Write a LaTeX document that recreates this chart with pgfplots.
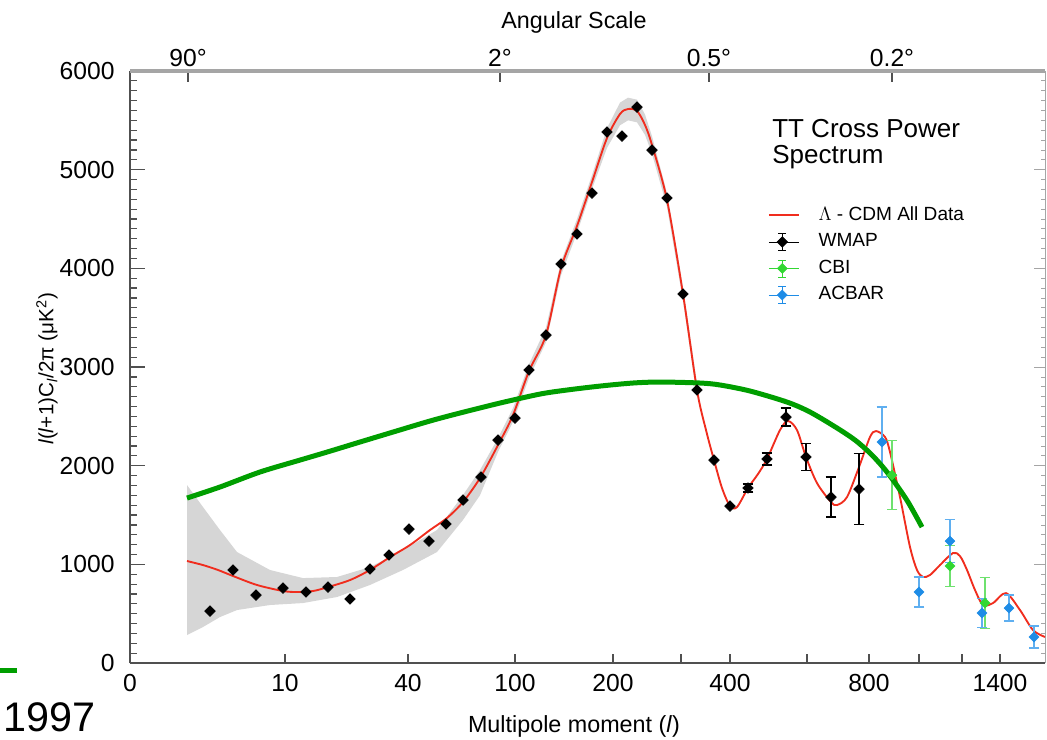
\documentclass[border=0pt]{standalone}
\usepackage{pgfplots}
\pgfplotsset{compat=1.18}
\usepackage{fontspec}
\setmainfont{Liberation Sans}

\definecolor{lcdm}{RGB}{240,45,30}
\definecolor{fitgreen}{RGB}{0,158,0}
\definecolor{cbi}{RGB}{50,215,50}
\definecolor{cbibar}{RGB}{110,225,110}
\definecolor{acbar}{RGB}{30,140,230}
\definecolor{acbarbar}{RGB}{95,175,240}
\definecolor{band}{RGB}{214,214,214}
\definecolor{axisdark}{RGB}{80,80,80}
\definecolor{axislight}{RGB}{165,165,165}

% square diamond
\pgfdeclareplotmark{dia}{%
  \pgfpathmoveto{\pgfqpoint{0pt}{\pgfplotmarksize}}%
  \pgfpathlineto{\pgfqpoint{\pgfplotmarksize}{0pt}}%
  \pgfpathlineto{\pgfqpoint{0pt}{-\pgfplotmarksize}}%
  \pgfpathlineto{\pgfqpoint{-\pgfplotmarksize}{0pt}}%
  \pgfpathclose
  \pgfusepathqfillstroke}

% x = position along the chart's stretched multipole axis (ticks labelled with l)
\pgfplotsset{
  wmapframe/.style={x=0.75pt, y=0.074pt, xmin=130, xmax=1045, ymin=0, ymax=6000,
    ticklabel style={font=\fontsize{18.5}{20}\selectfont},
    /pgf/number format/assume math mode=true,
    /pgf/number format/1000 sep={}},
  lineleg/.style={legend image code/.code={\draw[##1] (0pt,0pt) -- (22.5pt,0pt);}},
  errleg/.style={legend image code/.code={
      \path (0pt,0pt) -- (22.5pt,0pt);
      \draw[##1, mark=none, solid] (10pt,-6.5pt) -- (10pt,6.5pt)
        (7pt,-6.5pt) -- (13pt,-6.5pt) (7pt,6.5pt) -- (13pt,6.5pt);
      \draw[##1, only marks] plot coordinates {(10pt,0pt)};}},
}

\begin{document}
\begin{tikzpicture}
% left y axis
\begin{axis}[wmapframe, axis x line=none, axis y line*=left,
  y axis line style={draw=axisdark, line width=1.2pt},
  ytick={0,1000,...,6000}, minor y tick num=9,
  major tick length=11pt, minor tick length=5pt,
  ytick style={draw=axisdark, line width=0.9pt},
  tick align=inside,
  yticklabel style={xshift=-8pt}]
\end{axis}

% angular scale on top, mirrored ticks on the right
\begin{axis}[wmapframe, axis x line*=top, axis y line*=right,
  x axis line style={draw=axislight, line width=3.5pt},
  y axis line style={draw=axislight, line width=0.6pt},
  xtick={188,500,709,892}, xticklabels={90°,2°,0.5°,0.2°},
  ytick={0,1000,...,6000}, yticklabels={}, minor y tick num=9,
  major tick length=8pt, minor tick length=3pt,
  xtick style={draw=axisdark, line width=1pt},
  ytick style={draw=axislight, line width=0.6pt},
  tick align=inside]
\end{axis}

\begin{axis}[wmapframe, name=main, clip=false,
  axis x line*=bottom, axis y line=none,
  x axis line style={draw=axisdark, line width=1.2pt},
  xtick={130,285,408,515,613,681,730,807,869,919,962,1000},
  xticklabels={0,10,40,100,200,,400,,800,,,1400},
  xtick style={draw=axisdark, line width=0.9pt},
  major tick length=7pt, tick align=inside,
  xticklabel style={yshift=-5pt},
  legend cell align=left,
  legend style={at={(axis description cs:0.697,0.779)}, anchor=north west,
    draw=none, fill=none, inner sep=0pt, row sep=0pt, column sep=12pt,
    font=\fontsize{14.3}{16}\selectfont,
    nodes={inner ysep=3.3pt, text height=10.3pt, text depth=3pt}}]

% uncertainty band of the model
\addplot[fill=band, draw=none, forget plot] coordinates {
  (187,1804) (203,1581) (220,1348) (237,1125) (270,943) (303,861) (337,872)
  (370,973) (403,1145) (437,1348) (463,1703) (480,1956) (498,2279) (513,2583)
  (529,3029) (546,3400) (561,4070) (577,4500) (592,4945) (607,5421) (620,5680)
  (628,5730) (637,5710) (645,5560) (652,5340) (667,4763) (683,3810) (697,2837)
  (697,2697) (683,3670) (667,4623) (652,5160) (645,5353) (637,5480) (628,5500)
  (620,5450) (607,5221) (592,4805) (577,4359) (561,3930) (546,3250) (529,2889)
  (513,2443) (498,2139) (480,1700) (463,1450) (437,1125) (403,943) (370,791)
  (337,669) (303,608) (270,588) (237,537) (220,466) (203,365) (187,284)} -- cycle;

\addplot[lcdm, line width=1.4pt, smooth, tension=0.5, lineleg] coordinates {
  (187,1034) (203,993) (218,943) (233,882) (257,791) (283,730) (297,720) (313,730)
  (328,770) (350,841) (370,943) (390,1074) (410,1196) (430,1348) (447,1470)
  (463,1632) (480,1875) (498,2209) (513,2513) (529,2959) (546,3324) (561,4000)
  (577,4429) (592,4875) (607,5321) (620,5564) (628,5615) (637,5595) (645,5453)
  (652,5250) (667,4693) (683,3740) (697,2767) (706,2361) (714,2057) (722,1774)
  (730,1591) (737,1581) (748,1774) (758,1916) (767,2068) (780,2361) (788,2453)
  (797,2361) (806,2088) (817,1824) (831,1632) (837,1601) (847,1682) (859,1986)
  (870,2291) (876,2351) (885,2291) (890,2139) (900,1682) (910,1176) (917,943)
  (923,872) (930,892) (940,993) (953,1115) (960,1084) (967,943) (975,740)
  (983,588) (993,608) (1006,709) (1020,537) (1033,334) (1045,264)};
\addlegendentry{$\Lambda$ - CDM All Data}

% WMAP binned points (error bars hidden under the marks)
\addplot[only marks, mark=dia, mark size=4pt, black, forget plot] coordinates {
  (210,527) (233,943) (256,689) (283,760) (306,720) (328,770) (350,649) (370,953)
  (389,1095) (409,1358) (429,1236) (446,1409) (463,1652) (481,1885) (498,2260)
  (515,2483) (529,2970) (546,3324) (561,4044) (577,4348) (592,4763) (607,5382)
  (622,5341) (637,5635) (652,5199) (667,4713) (683,3740) (697,2767) (714,2057)
  (730,1591)};

\addplot[only marks, mark=dia, mark size=4pt, black, errleg,
  error bars/.cd, y dir=both, y explicit,
  error bar style={line width=1pt, black},
  error mark options={rotate=90, line width=1pt, mark size=4pt, black}] coordinates {
  (748,1774) +- (0,40)
  (767,2068) +- (0,61)
  (786,2493) +- (0,91)
  (806,2088) +- (0,137)
  (831,1682) +- (0,203)
  (859,1763) +- (0,360)};
\addlegendentry{WMAP}

\addplot[only marks, mark=dia, mark size=3.7pt, cbi, errleg,
  error bars/.cd, y dir=both, y explicit,
  error bar style={line width=1pt, cbibar},
  error mark options={rotate=90, line width=1pt, mark size=4pt, cbibar}] coordinates {
  (892,1905) +- (0,350)
  (950,983) +- (0,208)
  (985,608) +- (0,258)};
\addlegendentry{CBI}

\addplot[only marks, mark=dia, mark size=3.7pt, acbar, errleg,
  error bars/.cd, y dir=both, y explicit,
  error bar style={line width=1pt, acbarbar},
  error mark options={rotate=90, line width=1pt, mark size=4pt, acbarbar}] coordinates {
  (882,2240) +- (0,355)
  (919,720) +- (0,152)
  (950,1236) +- (0,218)
  (982,507) +- (0,147)
  (1009,557) +- (0,132)
  (1034,264) +- (0,111)};
\addlegendentry{ACBAR}

% overlaid thick green curve
\addplot[fitgreen, line width=3.75pt, smooth, forget plot] coordinates {
  (187,1672) (220,1784) (260,1936) (300,2057) (327,2138) (360,2240) (393,2341)
  (430,2453) (460,2534) (500,2635) (540,2726) (567,2767) (600,2807) (633,2838)
  (660,2848) (700,2838) (720,2818) (750,2757) (787,2645) (810,2544) (837,2382)
  (855,2260) (870,2128) (882,1997) (893,1855) (908,1632) (922,1378)};
\addplot[fitgreen, line width=3.75pt, forget plot] coordinates {(0,-71) (17,-71)};

\node[anchor=base, font=\fontsize{17.5}{20}\selectfont] at (axis cs:574,6436) {Angular Scale};
\node[anchor=base, font=\fontsize{17.5}{20}\selectfont] at (axis cs:574,-709) {Multipole moment (\textit{l})};
\node[rotate=90, font=\fontsize{15.5}{18}\selectfont] at (axis cs:47,2980)
  {\textit{l}(\textit{l}+1)C\textsubscript{\textit{l}}/2π (μK\textsuperscript{2})};
\node[anchor=base west, inner sep=0pt, font=\fontsize{19.5}{22}\selectfont] at (axis cs:772,5331) {TT Cross Power};
\node[anchor=base west, inner sep=0pt, font=\fontsize{19.5}{22}\selectfont] at (axis cs:772,5058) {Spectrum};
\node[anchor=base west, inner sep=0pt, font=\fontsize{31}{34}\selectfont] at (axis cs:3,-689) {1997};
\coordinate (bl) at (axis cs:0,-770);
\coordinate (tr) at (axis cs:1047,6720);
\end{axis}
\pgfresetboundingbox
\path (bl) rectangle (tr);
\end{tikzpicture}
\end{document}
